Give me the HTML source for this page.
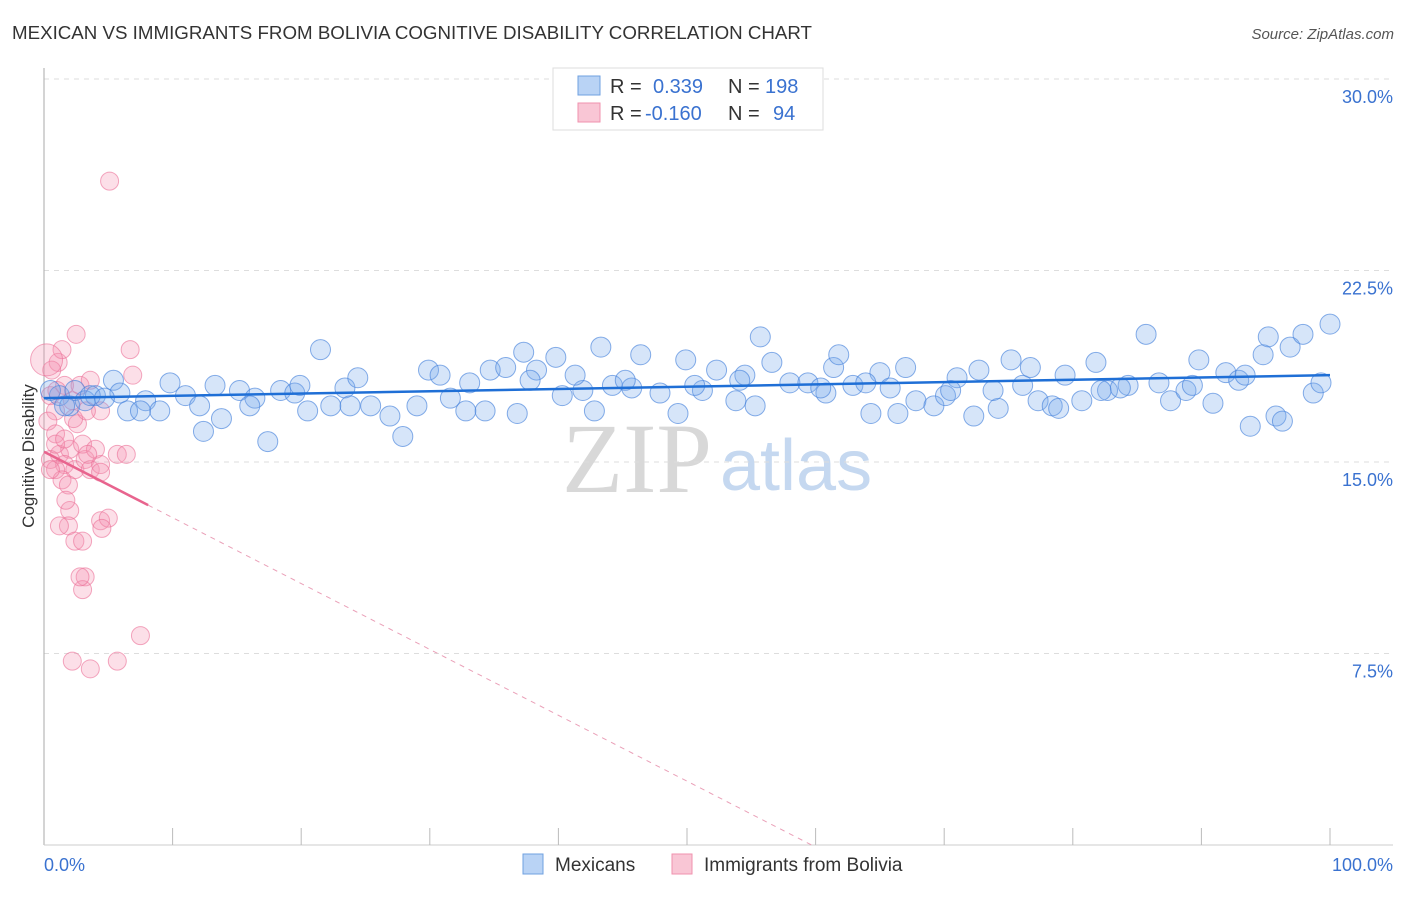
<!DOCTYPE html>
<html><head><meta charset="utf-8"><style>
body{margin:0;background:#fff;font-family:"Liberation Sans",sans-serif}
</style></head><body>
<svg id="chart" width="1406" height="892" xmlns="http://www.w3.org/2000/svg" font-family="Liberation Sans, sans-serif">
<text x="12" y="39" font-size="18" fill="#333" textLength="800" lengthAdjust="spacingAndGlyphs">MEXICAN VS IMMIGRANTS FROM BOLIVIA COGNITIVE DISABILITY CORRELATION CHART</text>
<text x="1394" y="39" font-size="15" fill="#555" text-anchor="end" font-style="italic">Source: ZipAtlas.com</text>
<g>
<text x="712" y="492" font-size="100" font-family="Liberation Serif, serif" fill="#d8d8d8" text-anchor="end">ZIP</text>
<text x="720" y="490" font-size="72" fill="#c5d8f0">atlas</text>
</g>
<g id="grid"></g>
<g id="axes"></g>
<g id="marks"></g>
<text transform="translate(34,456) rotate(-90)" font-size="17" fill="#333" text-anchor="middle">Cognitive Disability</text>
<g>
<rect x="553" y="68" width="270" height="62" fill="#fff" stroke="#ddd"/>
<rect x="578" y="76" width="22" height="19" fill="#b9d3f5" stroke="#6fa0e0"/>
<rect x="578" y="103" width="22" height="19" fill="#f9c6d5" stroke="#f092ae"/>
<text x="610" y="93" font-size="20" fill="#333">R =</text>
<text x="653" y="93" font-size="20" fill="#3a72d0">0.339</text>
<text x="728" y="93" font-size="20" fill="#333">N =</text>
<text x="765" y="93" font-size="20" fill="#3a72d0">198</text>
<text x="610" y="120" font-size="20" fill="#333">R =</text>
<text x="645" y="120" font-size="20" fill="#3a72d0">-0.160</text>
<text x="728" y="120" font-size="20" fill="#333">N =</text>
<text x="773" y="120" font-size="20" fill="#3a72d0">94</text>
</g>
<g>
<rect x="523" y="854" width="20" height="20" fill="#b9d3f5" stroke="#6fa0e0"/>
<text x="555" y="871" font-size="19" fill="#333">Mexicans</text>
<rect x="672" y="854" width="20" height="20" fill="#f9c6d5" stroke="#f092ae"/>
<text x="704" y="871" font-size="19" fill="#333">Immigrants from Bolivia</text>
</g>
</svg>
<script>
const yTicks=[7.5,15,22.5,30];
const yTickLabels=["7.5%","15.0%","22.5%","30.0%"];
const xTickLabels=["0.0%","100.0%"];
const blueX=[1.2,2.0,2.4,3.2,4.0,5.4,5.9,6.5,7.9,9.0,9.8,11.0,12.1,12.4,13.3,13.8,15.2,16.4,17.4,18.4,19.5,20.5,21.5,22.3,23.4,24.4,25.4,26.9,27.9,29.0,29.9,30.8,31.6,33.1,34.3,34.7,35.9,36.8,37.3,38.3,39.8,40.3,41.9,42.8,43.3,44.2,45.7,46.4,47.9,49.3,49.9,51.2,52.3,53.8,54.5,55.3,55.7,56.6,58.0,59.4,60.8,61.4,61.8,62.9,64.3,65.0,66.4,67.0,67.8,69.2,70.1,71.0,72.3,72.7,74.2,75.2,76.1,76.7,77.3,78.4,79.4,80.7,81.8,82.7,84.3,85.7,86.7,87.6,88.8,89.8,90.9,91.9,92.9,93.8,94.8,95.2,95.8,96.3,96.9,97.9,98.7,99.3,100.0,7.5,16.0,19.9,23.8,32.8,37.8,41.3,45.2,50.6,54.1,60.4,63.9,65.8,70.5,73.8,78.9,82.2,83.7,89.3,93.4,3.6,4.7,1.6,0.5];
const blueY=[17.6,17.2,17.8,17.4,17.6,18.2,17.7,17.0,17.4,17.0,18.1,17.6,17.2,16.2,18.0,16.7,17.8,17.5,15.8,17.8,17.7,17.0,19.4,17.2,17.9,18.3,17.2,16.8,16.0,17.2,18.6,18.4,17.5,18.1,17.0,18.6,18.7,16.9,19.3,18.6,19.1,17.6,17.8,17.0,19.5,18.0,17.9,19.2,17.7,16.9,19.0,17.8,18.6,17.4,18.4,17.2,19.9,18.9,18.1,18.1,17.7,18.7,19.2,18.0,16.9,18.5,16.9,18.7,17.4,17.2,17.6,18.3,16.8,18.6,17.1,19.0,18.0,18.7,17.4,17.2,18.4,17.4,18.9,17.8,18.0,20.0,18.1,17.4,17.8,19.0,17.3,18.5,18.2,16.4,19.2,19.9,16.8,16.6,19.5,20.0,17.7,18.1,20.4,17.0,17.2,18.0,17.2,17.0,18.2,18.4,18.2,18.0,18.2,17.9,18.1,17.9,17.8,17.8,17.1,17.8,17.9,18.0,18.4,17.6,17.5,17.2,17.8];
const pinkX=[2.5,6.7,6.9,1.1,1.4,0.6,0.5,0.9,0.3,1.6,2.8,0.9,1.2,0.5,2.0,1.6,2.4,0.9,3.2,3.6,4.4,3.0,4.0,3.4,4.4,5.7,6.4,4.4,1.4,1.9,2.0,1.9,2.4,1.2,3.0,4.4,5.0,4.5,3.2,3.0,2.8,2.2,3.6,5.7,7.5,5.1,2.2,2.6,0.9,1.6,0.5,1.7,2.3,3.3,3.6,1.0,0.2];
const pinkY=[20.0,19.4,18.4,18.9,19.4,18.6,17.6,17.0,16.6,18.0,18.0,16.1,15.3,15.1,15.5,14.9,14.7,14.7,15.1,14.7,14.9,15.7,15.5,15.3,14.6,15.3,15.3,17.0,14.3,14.1,13.1,12.5,11.9,12.5,11.9,12.7,12.8,12.4,10.5,10.0,10.5,7.2,6.9,7.2,8.2,26.0,17.4,16.5,15.7,15.9,14.7,13.5,16.7,17.0,18.2,17.8,19.0];
const blueTrend=[17.5,18.4];
const pinkIntercept=15.4, pinkSlope=-0.258, pinkSolidEnd=8.1;

const X0=44,X1=1330,Y0=845,YTOP=79;
const sx=v=>X0+(X1-X0)*v/100;
const sy=v=>Y0-(Y0-YTOP)*v/30;
const NS="http://www.w3.org/2000/svg";
function mk(tag,attrs,parent){const e=document.createElementNS(NS,tag);for(const k in attrs)e.setAttribute(k,attrs[k]);document.getElementById(parent).appendChild(e);return e;}
yTicks.forEach((t,i)=>{
 const l=mk('line',{x1:X0,x2:1393,y1:sy(t),y2:sy(t),stroke:'#ddd','stroke-dasharray':'5,5'},'grid');
 
 
 const tx=mk('text',{x:1393,y:sy(t)+24,'font-size':18,fill:'#3a72d0','text-anchor':'end'},'axes');
 tx.textContent=yTickLabels[i];
 
 
});
let a=mk('line',{x1:X0,x2:X0,y1:68,y2:Y0,stroke:'#aaa'},'axes');


a=mk('line',{x1:X0,x2:1393,y1:Y0,y2:Y0,stroke:'#ccc'},'axes');


for(let i=1;i<=10;i++){const t=mk('line',{x1:sx(i*10),x2:sx(i*10),y1:828,y2:Y0,stroke:'#bbb'},'axes');
 
 }
[[0,'start',44],[100,'end',1393]].forEach((p,i)=>{const t=mk('text',{x:p[2],y:871,'font-size':18,fill:'#3a72d0','text-anchor':p[1]},'axes');t.textContent=xTickLabels[i];
 
 });
pinkX.forEach((x,i)=>{const c=mk('circle',{cx:sx(x),cy:sy(pinkY[i]),r:i===pinkX.length-1?16:9,fill:'rgba(245,150,180,0.3)',stroke:'rgba(235,110,150,0.6)'},'marks');
 
 });
blueX.forEach((x,i)=>{const c=mk('circle',{cx:sx(x),cy:sy(blueY[i]),r:10,fill:'rgba(120,170,235,0.3)',stroke:'rgba(70,130,220,0.65)'},'marks');
 
 });
let tl=mk('line',{x1:sx(0),y1:sy(blueTrend[0]),x2:sx(100),y2:sy(blueTrend[1]),stroke:'#1f6fd6','stroke-width':2.5},'marks');


const zeroX=-pinkIntercept/pinkSlope;
tl=mk('line',{x1:sx(0),y1:sy(pinkIntercept),x2:sx(pinkSolidEnd),y2:sy(pinkIntercept+pinkSlope*pinkSolidEnd),stroke:'#e8648e','stroke-width':2.5},'marks');


tl=mk('line',{x1:sx(pinkSolidEnd),y1:sy(pinkIntercept+pinkSlope*pinkSolidEnd),x2:sx(zeroX),y2:sy(0),stroke:'#eaa0b8','stroke-width':1,'stroke-dasharray':'5,5'},'marks');


</script>
</body></html>
